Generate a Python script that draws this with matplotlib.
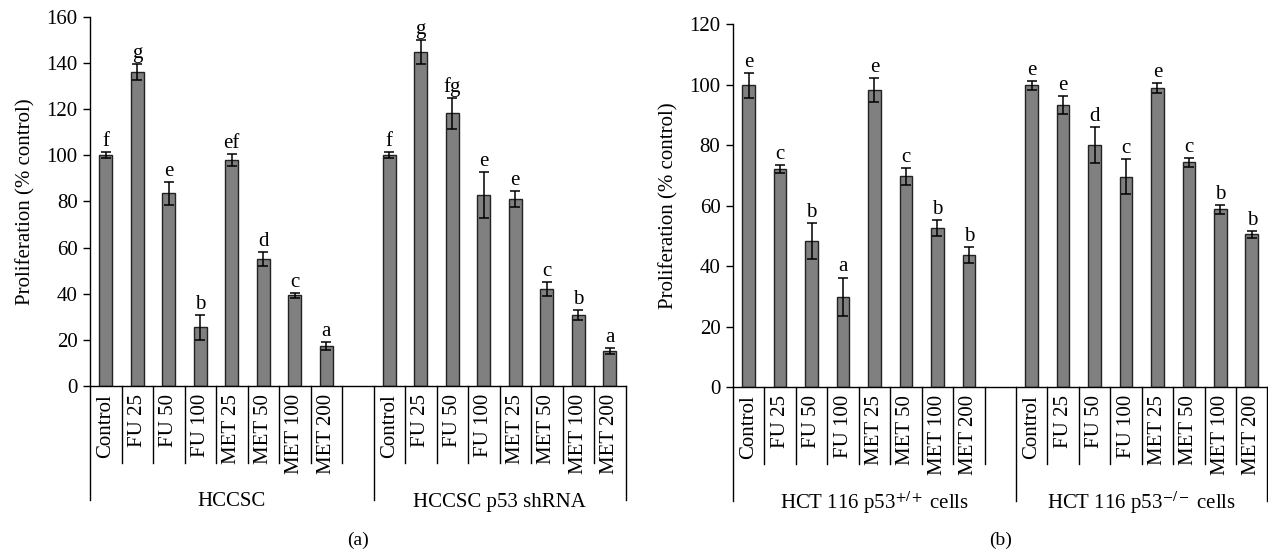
import numpy as np
import matplotlib
matplotlib.use("Agg")
import matplotlib.pyplot as plt
from matplotlib.transforms import blended_transform_factory

plt.rcParams['font.family'] = ['Liberation Serif', 'DejaVu Serif']
plt.rcParams['mathtext.fontset'] = 'stix'

categories = ['Control', 'FU 25', 'FU 50', 'FU 100', 'MET 25', 'MET 50', 'MET 100', 'MET 200']

# panel (a)
hccsc_vals = [100, 136, 83.5, 25.4, 97.8, 55.2, 39.3, 17.2]
hccsc_err = [1.2, 3.5, 5.0, 5.4, 2.7, 3.0, 1.0, 1.7]
hccsc_sig = ['f', 'g', 'e', 'b', 'ef', 'd', 'c', 'a']
shrna_vals = [100, 144.7, 118.1, 82.7, 80.9, 42.0, 30.8, 15.2]
shrna_err = [1.3, 5.0, 6.6, 10.0, 3.5, 2.9, 2.0, 1.3]
shrna_sig = ['f', 'g', 'fg', 'e', 'e', 'c', 'b', 'a']

# panel (b)
wt_vals = [99.8, 72.1, 48.3, 29.9, 98.2, 69.7, 52.6, 43.7]
wt_err = [4.1, 1.4, 5.8, 6.3, 3.9, 2.8, 2.6, 2.6]
wt_sig = ['e', 'c', 'b', 'a', 'e', 'c', 'b', 'b']
ko_vals = [99.8, 93.3, 80.0, 69.6, 99.0, 74.3, 58.8, 50.5]
ko_err = [1.5, 2.9, 6.0, 5.9, 1.7, 1.5, 1.4, 1.2]
ko_sig = ['e', 'e', 'd', 'c', 'e', 'c', 'b', 'b']

groups_a = ['HCCSC', 'HCCSC p53 shRNA']
groups_b = [r'HCT 116 p53$^{+/+}$ cells', r'HCT 116 p53$^{-/-}$ cells']

W, H = 1268, 554
fig = plt.figure(figsize=(W / 100, H / 100), dpi=100)
FS = 15


def panel(rect, ymax, vals1, err1, sig1, vals2, err2, sig2, groups, tag):
    ax = fig.add_axes(rect)
    hpx = rect[3] * H
    n = len(categories)
    x1 = np.arange(n) + 0.5
    x2 = np.arange(n) + n + 1.5
    for xs, v, e, s in ((x1, vals1, err1, sig1), (x2, vals2, err2, sig2)):
        ax.bar(xs, v, width=0.4, color='#808080', edgecolor='#222222', linewidth=1.0, zorder=2)
        ax.errorbar(xs, v, yerr=e, fmt='none', ecolor='black', elinewidth=1.1,
                    capsize=3.5, capthick=1.1, zorder=3)
        for xi, vi, ei, si in zip(xs, v, e, s):
            ax.text(xi, vi + ei + ymax * 0.003, si, ha='center', va='bottom', fontsize=FS)
    ax.set_xlim(0, 2 * n + 1)
    ax.set_ylim(0, ymax)
    ax.set_yticks(np.arange(0, ymax + 1, 20))
    ax.tick_params(axis='y', labelsize=FS, length=5, width=1, direction='out', pad=4)
    ax.set_xticks([])
    ax.spines['top'].set_visible(False)
    ax.spines['right'].set_visible(False)
    for sp in ('left', 'bottom'):
        ax.spines[sp].set_linewidth(1)
    ax.set_ylabel('Proliferation (% control)', fontsize=FS, labelpad=8)

    tr = blended_transform_factory(ax.transData, ax.transAxes)
    short = -77 / hpx
    long_ = -114 / hpx
    # category labels
    for xs in (x1, x2):
        for xi, c in zip(xs, categories):
            ax.text(xi, -8 / hpx, c, rotation=90, ha='center', va='top',
                    fontsize=FS, transform=tr)
    # divider lines
    for b in range(0, 2 * n + 2):
        y0 = long_ if b in (0, n + 1, 2 * n + 1) else short
        ax.plot([b, b], [0, y0], color='black', lw=1, transform=tr, clip_on=False)
    # group labels
    ax.text((n + 1) / 2, -116 / hpx, groups[0], ha='center', va='center', fontsize=FS, transform=tr)
    ax.text(n + 1 + n / 2, -116 / hpx, groups[1], ha='center', va='center', fontsize=FS, transform=tr)
    bottom_px = H - rect[1] * H
    ax.text((2 * n + 1) / 2, -(540 - bottom_px) / hpx, tag,
            ha='center', va='center', fontsize=14, transform=tr)
    return ax


panel([90 / W, (H - 386) / H, 535.5 / W, 369.3 / H], 160,
      hccsc_vals, hccsc_err, hccsc_sig, shrna_vals, shrna_err, shrna_sig, groups_a, '(a)')
panel([733 / W, (H - 387) / H, 534.5 / W, 362.7 / H], 120,
      wt_vals, wt_err, wt_sig, ko_vals, ko_err, ko_sig, groups_b, '(b)')

fig.savefig('out.png', dpi=100)
